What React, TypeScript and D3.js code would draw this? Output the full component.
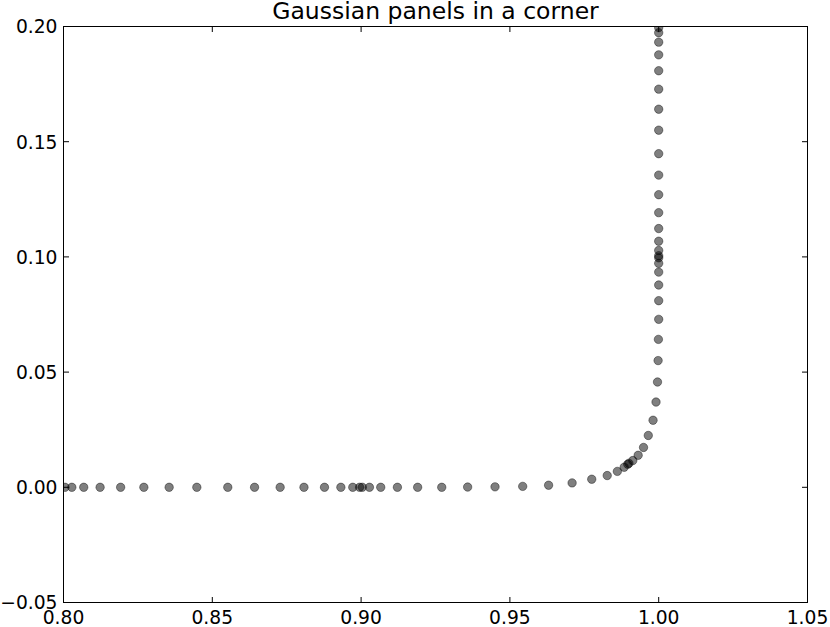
import * as d3 from "d3";
import { useEffect, useRef } from "react";

// bottom panel on [0.80, 0.90], y = 0
const bottomX = [
  0.8005, 0.8028, 0.8068, 0.8123, 0.8192, 0.827, 0.8355, 0.8448, 0.8552,
  0.8642, 0.8728, 0.8808, 0.8877, 0.8932, 0.8972, 0.8995,
];

// first corner panel, running from (0.90, 0) into the bend
const cornerAX = [
  0.9004, 0.9028, 0.9066, 0.9122, 0.919, 0.9271, 0.9358, 0.945, 0.9543,
  0.963, 0.9709, 0.9775, 0.9827, 0.9861, 0.9884, 0.9896,
];
const cornerAY = [
  0, 0, 0, 0, 0, 0, 0.0001, 0.0002, 0.0004, 0.0009, 0.0019, 0.0035, 0.0051,
  0.0069, 0.0087, 0.01,
];

// second corner panel, from the bend up to (1.00, 0.10)
const cornerBX = [
  0.99, 0.9913, 0.9931, 0.9949, 0.9965, 0.9981, 0.9991, 0.9996, 0.9998,
  0.9999, 1, 1, 1, 1, 1, 1,
];
const cornerBY = [
  0.0104, 0.0116, 0.0139, 0.0173, 0.0225, 0.0291, 0.037, 0.0457, 0.055,
  0.0642, 0.0729, 0.081, 0.0878, 0.0934, 0.0972, 0.0996,
];

// side panel on [0.10, 0.20], x = 1
const sideY = [
  0.1005, 0.1028, 0.1068, 0.1123, 0.1192, 0.127, 0.1355, 0.1448, 0.155,
  0.1641, 0.1728, 0.1808, 0.1877, 0.1932, 0.1973, 0.1995,
];

const xTicks = [0.8, 0.85, 0.9, 0.95, 1.0, 1.05];
const yTicks = [-0.05, 0.0, 0.05, 0.1, 0.15, 0.2];

const W = 830;
const H = 627;
const left = 63.5;
const right = 807.5;
const top = 26.5;
const bottom = 602.5;

const App = () => {
  const svgRef = useRef<SVGSVGElement>(null);

  useEffect(() => {
    const svg = d3.select(svgRef.current);
    svg.selectAll("*").remove();

    const x = d3.scaleLinear().domain([0.8, 1.05]).range([left, right]);
    const y = d3.scaleLinear().domain([-0.05, 0.2]).range([bottom, top]);

    const points: [number, number][] = [
      ...bottomX.map((v) => [v, 0] as [number, number]),
      ...cornerAX.map((v, i) => [v, cornerAY[i]] as [number, number]),
      ...cornerBX.map((v, i) => [v, cornerBY[i]] as [number, number]),
      ...sideY.map((v) => [1, v] as [number, number]),
    ];

    svg
      .append("defs")
      .append("clipPath")
      .attr("id", "plot-clip")
      .append("rect")
      .attr("x", left)
      .attr("y", top)
      .attr("width", right - left)
      .attr("height", bottom - top);

    svg
      .append("g")
      .attr("clip-path", "url(#plot-clip)")
      .selectAll("circle")
      .data(points)
      .enter()
      .append("circle")
      .attr("cx", (d) => x(d[0]))
      .attr("cy", (d) => y(d[1]))
      .attr("r", 4.2)
      .attr("fill", "black")
      .attr("fill-opacity", 0.5)
      .attr("stroke", "black")
      .attr("stroke-opacity", 0.5)
      .attr("stroke-width", 0.8);

    const font = "'DejaVu Sans', sans-serif";
    const tick = 5.5;

    // inward ticks on all four sides
    const tg = svg.append("g").attr("stroke", "black").attr("stroke-width", 1);
    xTicks.forEach((t) => {
      const px = x(t);
      tg.append("line").attr("x1", px).attr("x2", px).attr("y1", bottom).attr("y2", bottom - tick);
      tg.append("line").attr("x1", px).attr("x2", px).attr("y1", top).attr("y2", top + tick);
    });
    yTicks.forEach((t) => {
      const py = y(t);
      tg.append("line").attr("x1", left).attr("x2", left + tick).attr("y1", py).attr("y2", py);
      tg.append("line").attr("x1", right).attr("x2", right - tick).attr("y1", py).attr("y2", py);
    });

    svg
      .append("rect")
      .attr("x", left)
      .attr("y", top)
      .attr("width", right - left)
      .attr("height", bottom - top)
      .attr("fill", "none")
      .attr("stroke", "black")
      .attr("stroke-width", 1);

    svg
      .append("g")
      .selectAll("text")
      .data(xTicks)
      .enter()
      .append("text")
      .attr("x", (d) => x(d))
      .attr("y", 624)
      .attr("text-anchor", "middle")
      .attr("font-family", font)
      .attr("font-size", 18.7)
      .text((d) => d3.format(".2f")(d));

    svg
      .append("g")
      .selectAll("text")
      .data(yTicks)
      .enter()
      .append("text")
      .attr("x", 57.5)
      .attr("y", (d) => y(d) + 6.9)
      .attr("text-anchor", "end")
      .attr("font-family", font)
      .attr("font-size", 18.7)
      .text((d) => d3.format(".2f")(d).replace("-", "\u2212"));

    svg
      .append("text")
      .attr("x", (left + right) / 2)
      .attr("y", 18.5)
      .attr("text-anchor", "middle")
      .attr("font-family", font)
      .attr("font-size", 23.5)
      .text("Gaussian panels in a corner");
  }, []);

  return (
    <svg
      ref={svgRef}
      width={W}
      height={H}
      style={{ position: "absolute", left: 0, top: 0, background: "white" }}
    ></svg>
  );
};

export default App;
